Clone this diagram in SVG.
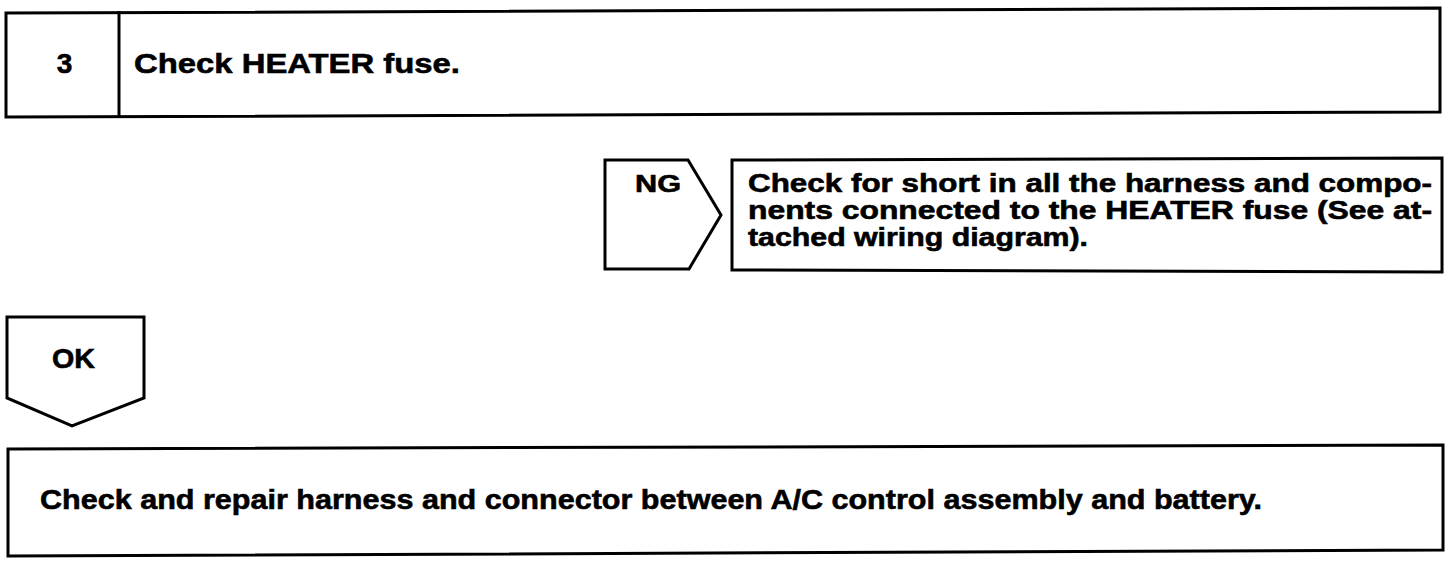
<svg xmlns="http://www.w3.org/2000/svg" width="1456" height="574" viewBox="0 0 1456 574">
<style>
.ln{fill:none;stroke:#000;stroke-width:3;stroke-linejoin:miter}
.t{font-family:"Liberation Sans",Arial,sans-serif;font-weight:bold;fill:#000;stroke:#000;stroke-width:0.6}
</style>
<rect x="0" y="0" width="1456" height="574" fill="#fff"/>
<g id="step3">
<polygon class="ln" points="6,13 1440,8 1440,112 6,117"/>
<line class="ln" x1="119" y1="11" x2="119" y2="116"/>
<text class="t" x="64.5" y="73" font-size="28" text-anchor="middle">3</text>
<text class="t" x="134" y="73" font-size="28" textLength="326" lengthAdjust="spacingAndGlyphs">Check HEATER fuse.</text>
</g>
<g id="connectors">
<g id="ng">
<polygon class="ln" points="605,160 688,160 721,215 689,269 605,269"/>
<text class="t" x="635" y="192" font-size="24" textLength="46" lengthAdjust="spacingAndGlyphs">NG</text>
</g>
<g id="ok">
<polygon class="ln" points="7,317 144,317 144,398 72,426 7,398"/>
<text class="t" x="52" y="368" font-size="28" textLength="43" lengthAdjust="spacingAndGlyphs">OK</text>
</g>
</g>
<g id="ng-action">
<polygon class="ln" points="732,160 1442,158 1442,272 732,270"/>
<text class="t" x="748" y="192" font-size="25" textLength="684" lengthAdjust="spacingAndGlyphs">Check for short in all the harness and compo-</text>
<text class="t" x="748" y="219" font-size="25" textLength="684" lengthAdjust="spacingAndGlyphs">nents connected to the HEATER fuse (See at-</text>
<text class="t" x="748" y="246" font-size="25" textLength="340" lengthAdjust="spacingAndGlyphs">tached wiring diagram).</text>
</g>
<g id="ok-action">
<polygon class="ln" points="8,449 1443,445 1443,550 8,556"/>
<text class="t" x="40" y="509" font-size="28" textLength="1222" lengthAdjust="spacingAndGlyphs">Check and repair harness and connector between A/C control assembly and battery.</text>
</g>
</svg>
